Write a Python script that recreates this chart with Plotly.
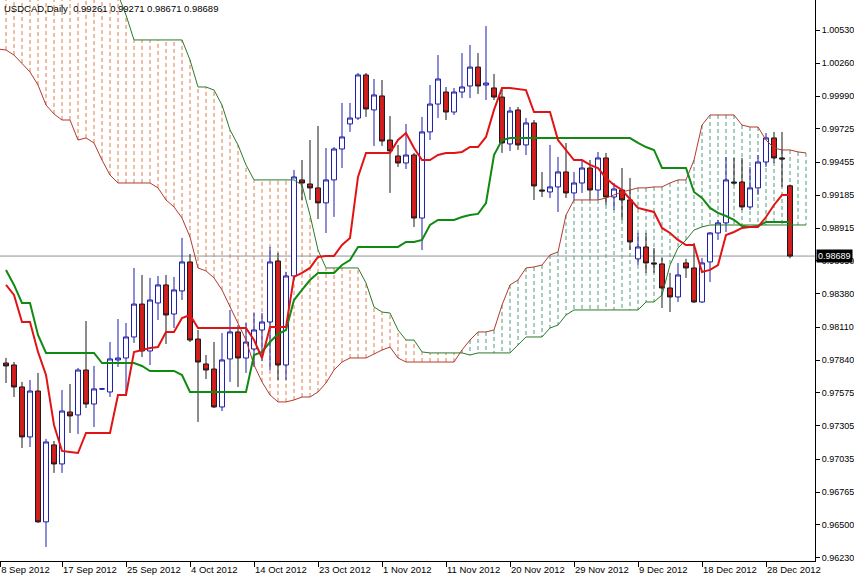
import plotly.graph_objects as go

# ---------------- data ----------------
title_text = "USDCAD,Daily  0.99261 0.99271 0.98671 0.98689"
last_close = 0.98689

tick_idx = [-1, 7, 15, 23, 31, 39, 47, 55, 63, 71, 79, 87, 95]
tick_text = ["8 Sep 2012", "17 Sep 2012", "25 Sep 2012", "4 Oct 2012", "14 Oct 2012",
             "23 Oct 2012", "1 Nov 2012", "11 Nov 2012", "20 Nov 2012", "29 Nov 2012",
             "9 Dec 2012", "18 Dec 2012", "28 Dec 2012"]

price_ticks = [1.00530, 1.00260, 0.99990, 0.99725, 0.99455, 0.99185, 0.98915, 0.98650,
               0.98380, 0.98110, 0.97840, 0.97575, 0.97305, 0.97035, 0.96765, 0.96500, 0.96230]

opens = [
    0.97818, 0.97802, 0.97623, 0.97216, 0.97590, 0.96524, 0.97151, 0.96996, 0.97419, 0.97395,
    0.97761, 0.97484, 0.97607, 0.97582, 0.97843, 0.97859, 0.98030, 0.98298, 0.97916, 0.98307,
    0.98454, 0.98217, 0.98405, 0.98641, 0.98013, 0.97810, 0.97769, 0.97460, 0.97851, 0.98071,
    0.97859, 0.97932, 0.98087, 0.98152, 0.98649, 0.97802, 0.98527, 0.99309, 0.99276, 0.99244,
    0.99122, 0.99309, 0.99561, 0.99765, 0.99813, 1.00164, 0.99879, 0.99993, 0.99634, 0.99504,
    0.99447, 0.99512, 0.98999, 0.99700, 0.99927, 1.00025, 0.99862, 1.00025, 1.00074, 1.00228,
    1.00082, 1.00058, 0.99984, 0.99602, 0.99879, 0.99594, 0.99773, 0.99227, 0.99211, 0.99252,
    0.99374, 0.99203, 0.99284, 0.99406, 0.99227, 0.99488, 0.99170, 0.99227, 0.99146, 0.98666,
    0.98763, 0.98633, 0.98625, 0.98429, 0.98356, 0.98633, 0.98592, 0.98315, 0.98641, 0.98877,
    0.98959, 0.99292, 0.99292, 0.99089, 0.99244, 0.99455, 0.99651, 0.99488, 0.99261]

highs = [
    0.97859, 0.97826, 0.97664, 0.97680, 0.97737, 0.97200, 0.97183, 0.97598, 0.97647, 0.97778,
    0.98160, 0.97794, 0.97615, 0.97989, 0.98176, 0.98144, 0.98592, 0.98535, 0.98511, 0.98527,
    0.98535, 0.98519, 0.98837, 0.98706, 0.98087, 0.97883, 0.97989, 0.98062, 0.98250, 0.98127,
    0.98144, 0.98225, 0.98225, 0.98763, 0.98715, 0.98560, 0.99390, 0.99471, 0.99634, 0.99748,
    0.99569, 0.99577, 0.99936, 0.99936, 1.00180, 1.00180, 1.00131, 1.00123, 0.99830, 0.99594,
    0.99765, 0.99529, 0.99822, 1.00082, 1.00326, 1.00066, 1.00058, 1.00342, 1.00408, 1.00342,
    1.00562, 1.00172, 1.00058, 0.99903, 0.99903, 0.99813, 0.99797, 0.99374, 0.99594, 0.99496,
    0.99610, 0.99374, 0.99471, 0.99471, 0.99537, 0.99529, 0.99284, 0.99406, 0.99325, 0.98877,
    0.98877, 0.98755, 0.98674, 0.98552, 0.98633, 0.98666, 0.98796, 0.98674, 0.98885, 0.98983,
    0.99496, 0.99488, 0.99488, 0.99415, 0.99512, 0.99691, 0.99700, 0.99700, 0.99271]

lows = [
    0.97655, 0.97541, 0.97126, 0.97134, 0.96516, 0.96320, 0.96923, 0.96923, 0.97248, 0.97240,
    0.97452, 0.97297, 0.97598, 0.97541, 0.97786, 0.97558, 0.97981, 0.97867, 0.97802, 0.98168,
    0.97973, 0.98103, 0.98331, 0.97989, 0.97338, 0.97688, 0.97452, 0.97427, 0.97664, 0.97623,
    0.97737, 0.97786, 0.97834, 0.97761, 0.97680, 0.97680, 0.98495, 0.99146, 0.99146, 0.98991,
    0.98877, 0.99008, 0.99406, 0.99700, 0.99797, 0.99822, 0.99586, 0.99586, 0.99203, 0.99415,
    0.99398, 0.98926, 0.98738, 0.99634, 0.99813, 0.99797, 0.99838, 0.99976, 0.99976, 1.00009,
    0.99960, 0.99960, 0.99529, 0.99545, 0.99553, 0.99512, 0.99146, 0.99170, 0.99162, 0.99048,
    0.99162, 0.99146, 0.99203, 0.99146, 0.99146, 0.99105, 0.99065, 0.98983, 0.98738, 0.98617,
    0.98552, 0.98552, 0.98266, 0.98233, 0.98315, 0.98511, 0.98307, 0.98307, 0.98478, 0.98820,
    0.98885, 0.99268, 0.99065, 0.99065, 0.99187, 0.99415, 0.99447, 0.99252, 0.98671]

closes = [
    0.97794, 0.97623, 0.97216, 0.97590, 0.96524, 0.97175, 0.96996, 0.97427, 0.97387, 0.97761,
    0.97484, 0.97607, 0.97607, 0.97851, 0.97859, 0.98030, 0.98298, 0.97916, 0.98331, 0.98454,
    0.98209, 0.98413, 0.98641, 0.98005, 0.97826, 0.97761, 0.97460, 0.97843, 0.98071, 0.97859,
    0.97989, 0.98087, 0.98152, 0.98641, 0.97802, 0.98527, 0.99333, 0.99284, 0.99244, 0.99122,
    0.99309, 0.99561, 0.99659, 0.99813, 1.00164, 0.99887, 1.00001, 0.99626, 0.99545, 0.99447,
    0.99512, 0.98999, 0.99700, 0.99927, 1.00131, 0.99862, 1.00025, 1.00066, 1.00228, 1.00074,
    1.00098, 0.99984, 0.99610, 0.99870, 0.99594, 0.99773, 0.99260, 0.99219, 0.99252, 0.99374,
    0.99203, 0.99284, 0.99406, 0.99227, 0.99488, 0.99170, 0.99235, 0.99146, 0.98804, 0.98763,
    0.98633, 0.98625, 0.98429, 0.98356, 0.98535, 0.98592, 0.98315, 0.98633, 0.98877, 0.98959,
    0.99309, 0.99284, 0.99089, 0.99244, 0.99455, 0.99651, 0.99488, 0.99480, 0.98689]

tenkan = [
    0.98454, 0.98372, 0.98152, 0.98152, 0.97908, 0.97721, 0.97313, 0.97102, 0.97093, 0.97085,
    0.97248, 0.97248, 0.97248, 0.97248, 0.97558, 0.97558, 0.97908, 0.97924, 0.97940, 0.97948,
    0.98071, 0.98071, 0.98185, 0.98209, 0.98103, 0.98103, 0.98103, 0.98103, 0.98103, 0.98103,
    0.98103, 0.98005, 0.97859, 0.98111, 0.98111, 0.98111, 0.98519, 0.98552, 0.98592, 0.98682,
    0.98690, 0.98690, 0.98779, 0.98836, 0.99333, 0.99529, 0.99529, 0.99529, 0.99529, 0.99634,
    0.99691, 0.99569, 0.99471, 0.99471, 0.99512, 0.99529, 0.99529, 0.99537, 0.99577, 0.99577,
    0.99659, 0.99879, 1.00058, 1.00058, 1.00050, 1.00041, 0.99862, 0.99862, 0.99862, 0.99634,
    0.99553, 0.99471, 0.99471, 0.99431, 0.99406, 0.99325, 0.99268, 0.99227, 0.99154, 0.99081,
    0.99064, 0.99048, 0.98918, 0.98877, 0.98820, 0.98779, 0.98779, 0.98559, 0.98576, 0.98616,
    0.98860, 0.98885, 0.98918, 0.98926, 0.98926, 0.99007, 0.99105, 0.99186, 0.99186]

kijun = [
    0.98576, 0.98454, 0.98307, 0.98307, 0.98046, 0.97900, 0.97900, 0.97900, 0.97900, 0.97900,
    0.97900, 0.97900, 0.97818, 0.97818, 0.97818, 0.97818, 0.97818, 0.97794, 0.97753, 0.97753,
    0.97753, 0.97753, 0.97720, 0.97582, 0.97582, 0.97582, 0.97582, 0.97582, 0.97582, 0.97582,
    0.97582, 0.97883, 0.97908, 0.97989, 0.98054, 0.98087, 0.98331, 0.98413, 0.98494, 0.98551,
    0.98551, 0.98551, 0.98616, 0.98657, 0.98763, 0.98763, 0.98763, 0.98763, 0.98763, 0.98763,
    0.98804, 0.98804, 0.98820, 0.98942, 0.98983, 0.98983, 0.98983, 0.99007, 0.99023, 0.99032,
    0.99121, 0.99512, 0.99634, 0.99650, 0.99650, 0.99650, 0.99650, 0.99650, 0.99650, 0.99650,
    0.99650, 0.99650, 0.99650, 0.99650, 0.99650, 0.99650, 0.99650, 0.99650, 0.99650, 0.99610,
    0.99577, 0.99553, 0.99406, 0.99406, 0.99406, 0.99406, 0.99211, 0.99162, 0.99081, 0.99040,
    0.99015, 0.98983, 0.98934, 0.98926, 0.98934, 0.98966, 0.98966, 0.98966, 0.98966]

# Senkou spans, bar index -1 .. 100 (cloud runs ahead of price)
span_a = [
    1.00375, 1.00367, 1.00326, 1.00261, 1.00188, 1.00082, 0.99919, 0.99846, 0.99797, 0.99797,
    0.99634, 0.99651, 0.99610, 0.99471, 0.99349, 0.99284, 0.99284, 0.99284, 0.99284, 0.99284,
    0.99244, 0.99146, 0.99089, 0.98999, 0.98844, 0.98592, 0.98568, 0.98511, 0.98413, 0.98274,
    0.98144, 0.98005, 0.97802, 0.97664, 0.97558, 0.97501, 0.97501, 0.97517, 0.97541, 0.97541,
    0.97582, 0.97655, 0.97761, 0.97826, 0.97859, 0.97859, 0.97859, 0.97891, 0.97924, 0.97948,
    0.97859, 0.97826, 0.97826, 0.97826, 0.97826, 0.97826, 0.97826, 0.97826, 0.97924, 0.98005,
    0.98071, 0.98071, 0.98087, 0.98290, 0.98454, 0.98494, 0.98592, 0.98600, 0.98616, 0.98698,
    0.98722, 0.99023, 0.99146, 0.99146, 0.99146, 0.99146, 0.99162, 0.99186, 0.99211, 0.99227,
    0.99244, 0.99244, 0.99252, 0.99252, 0.99284, 0.99309, 0.99309, 0.99471, 0.99756, 0.99838,
    0.99838, 0.99838, 0.99838, 0.99756, 0.99740, 0.99740, 0.99634, 0.99569, 0.99553, 0.99553,
    0.99537, 0.99529]

span_b = [
    1.00900, 1.00900, 1.00900, 1.00900, 1.00900, 1.00900, 1.00900, 1.00900, 1.00900, 1.00900,
    1.00900, 1.00900, 1.00900, 1.00900, 1.00900, 1.00820, 1.00652, 1.00449, 1.00449, 1.00449,
    1.00449, 1.00449, 1.00449, 1.00449, 1.00286, 1.00066, 1.00066, 1.00041, 0.99919, 0.99716,
    0.99594, 0.99431, 0.99309, 0.99309, 0.99309, 0.99309, 0.99309, 0.99309, 0.99268, 0.99023,
    0.98738, 0.98592, 0.98592, 0.98592, 0.98592, 0.98592, 0.98470, 0.98274, 0.98233, 0.98225,
    0.98087, 0.98005, 0.98005, 0.97908, 0.97900, 0.97900, 0.97900, 0.97900, 0.97900, 0.97883,
    0.97900, 0.97900, 0.97900, 0.97900, 0.97900, 0.97965, 0.98030, 0.98030, 0.98030, 0.98103,
    0.98127, 0.98209, 0.98250, 0.98250, 0.98250, 0.98250, 0.98250, 0.98250, 0.98250, 0.98250,
    0.98250, 0.98315, 0.98315, 0.98372, 0.98616, 0.98755, 0.98820, 0.98901, 0.98926, 0.98942,
    0.98942, 0.98942, 0.98942, 0.98942, 0.98942, 0.98942, 0.98942, 0.98942, 0.98942, 0.98942,
    0.98942, 0.98942]

# ---------------- styling ----------------
FONT = "Liberation Sans, Arial, sans-serif"
HATCH_BEAR = "#e07a4a"
HATCH_BULL = "#4f9a7c"
x_range = [-0.75, 101.125]
y_range = [0.962055, 1.007743]

bars = list(range(len(opens)))
span_x = list(range(-1, len(span_a) - 1))

fig = go.Figure()

shapes = []
for xv, a, b in zip(span_x, span_a, span_b):
    if xv < x_range[0]:
        continue
    col = HATCH_BULL if a > b else HATCH_BEAR
    shapes.append(dict(type="line", xref="x", yref="y", x0=xv, x1=xv, y0=a, y1=b,
                       line=dict(color=col, width=1, dash="4px,3px"), layer="below"))
shapes.append(dict(type="line", xref="paper", yref="y", x0=0, x1=1,
                   y0=last_close, y1=last_close,
                   line=dict(color="#8c949c", width=1), layer="below"))

fig.add_trace(go.Scatter(x=span_x, y=span_b, mode="lines",
                         line=dict(color="#2a7a2a", width=1), hoverinfo="skip"))
fig.add_trace(go.Scatter(x=span_x, y=span_a, mode="lines",
                         line=dict(color="#b23a30", width=1), hoverinfo="skip"))

fig.add_trace(go.Candlestick(
    x=bars, open=opens, high=highs, low=lows, close=closes,
    increasing=dict(line=dict(color="#1c1ca8", width=1), fillcolor="#ffffff"),
    decreasing=dict(line=dict(color="#1a1a1a", width=1), fillcolor="#d21e1e"),
    whiskerwidth=0, hoverinfo="skip"))

fig.add_trace(go.Scatter(x=bars, y=kijun, mode="lines",
                         line=dict(color="#118a11", width=2), hoverinfo="skip"))
fig.add_trace(go.Scatter(x=bars, y=tenkan, mode="lines",
                         line=dict(color="#e01414", width=2), hoverinfo="skip"))

tick_pos = [max(t, x_range[0] + 0.02) for t in tick_idx]

fig.update_layout(
    width=854, height=576,
    margin=dict(l=0, r=39, t=0, b=15),
    paper_bgcolor="white", plot_bgcolor="white",
    showlegend=False,
    boxgap=0.38, boxgroupgap=0,
    font=dict(family=FONT, size=9.5, color="black"),
    shapes=shapes,
    xaxis=dict(range=x_range, tickmode="array", tickvals=tick_pos, ticktext=tick_text,
               ticks="outside", ticklen=5, tickcolor="black", tickwidth=1,
               ticklabelposition="outside right",
               showline=True, linecolor="black", linewidth=1,
               showgrid=False, zeroline=False, rangeslider=dict(visible=False),
               automargin=False, fixedrange=True),
    yaxis=dict(range=y_range, side="right", tickmode="array", tickvals=price_ticks,
               ticktext=[f"{v:.5f}" for v in price_ticks],
               tickfont=dict(family=FONT, size=9, color="black"),
               ticks="outside", ticklen=4, tickcolor="black", tickwidth=1,
               showline=True, linecolor="black", linewidth=1,
               showgrid=False, zeroline=False, automargin=False, fixedrange=True),
    annotations=[
        dict(text=title_text, xref="paper", yref="paper", x=0.003, y=1,
             xanchor="left", yanchor="top", yshift=-1, showarrow=False,
             font=dict(family=FONT, size=9.5, color="black")),
        dict(text=f"{last_close:.5f}", xref="paper", yref="y", x=1, y=last_close,
             xanchor="left", yanchor="middle", xshift=1, showarrow=False,
             bgcolor="black", borderpad=1,
             font=dict(family=FONT, size=9, color="white")),
    ],
)

fig.write_html("out.html", config={"displayModeBar": False},
               post_script="document.body.style.margin='0px';document.body.style.padding='0px';")
